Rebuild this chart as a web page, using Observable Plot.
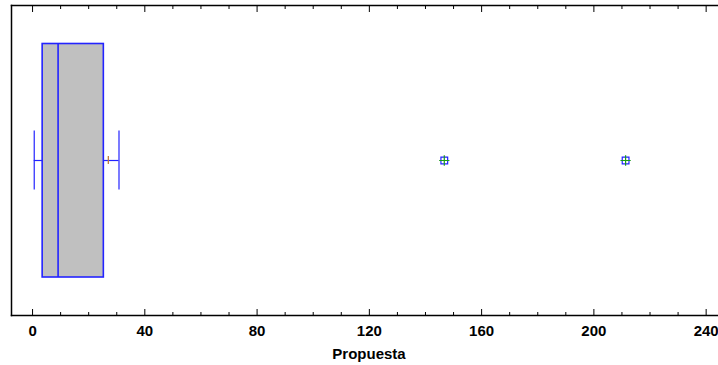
<!DOCTYPE html>
<html>
<head>
<meta charset="utf-8">
<script src="https://cdn.jsdelivr.net/npm/d3@7"></script>
<script src="https://cdn.jsdelivr.net/npm/@observablehq/plot@0.6"></script>
<style>
  html, body { margin: 0; padding: 0; background: #fff; }
</style>
</head>
<body>
<div id="chart"></div>
<script>
const category = ["Propuesta"];
const boxValues = [3.6, 9.1, 25.4];        // Q1, median, Q3
const whiskerValues = [0.6, 30.8];         // lower, upper whisker ends
const meanValues = [27.0];
const outlierValues = [146.7, 211.3];
const majorTicks = [0, 40, 80, 120, 160, 200, 240];
const minorTicks = [10, 20, 30, 50, 60, 70, 90, 100, 110, 130, 140, 150, 170, 180, 190, 210, 220, 230];
const axisTitle = "Propuesta";

const cat = () => category[0];
const blue = "#2323ff";

const chart = Plot.plot({
  width: 718,
  height: 365,
  marginLeft: 11,
  marginRight: 0,
  marginTop: 5,
  marginBottom: 50,
  x: {domain: [-7.5, 244.4], axis: null},
  y: {domain: category, axis: null, padding: 0},
  style: {fontFamily: "'Liberation Sans', Arial, sans-serif", background: "#fff", color: "#000"},
  marks: [
    // whiskers
    Plot.ruleY([{a: whiskerValues[0], b: boxValues[0]}, {a: boxValues[2], b: whiskerValues[1]}],
      {x1: "a", x2: "b", y: cat, stroke: blue, strokeWidth: 1.2}),
    Plot.tickX(whiskerValues, {x: d => d, y: cat, insetTop: 125.6, insetBottom: 125.6, stroke: blue, strokeWidth: 1.2}),
    // box
    Plot.barX([boxValues], {x1: d => d[0], x2: d => d[2], y: cat, insetTop: 38.5, insetBottom: 38,
      fill: "#c0c0c0", stroke: blue, strokeWidth: 1.6}),
    Plot.tickX([boxValues[1]], {x: d => d, y: cat, insetTop: 38.5, insetBottom: 38, stroke: blue, strokeWidth: 1.6}),
    // mean
    Plot.tickX(meanValues, {x: d => d, y: cat, insetTop: 151, insetBottom: 151, stroke: "#c07a3a", strokeWidth: 1.3}),
    // outliers
    Plot.dot(outlierValues, {x: d => d, y: cat, symbol: "square", r: 3.8, fill: "#fff", stroke: blue, strokeWidth: 1.2}),
    Plot.dot(outlierValues, {x: d => d, y: cat, symbol: "plus", r: 3.4, stroke: "#1a9a1a", strokeWidth: 1.2}),
    // frame
    Plot.frame({anchor: "left", stroke: "#000", strokeWidth: 1.5}),
    Plot.frame({anchor: "top", stroke: "#000", strokeWidth: 1.5}),
    Plot.frame({anchor: "bottom", stroke: "#000", strokeWidth: 1.5}),
    // inward ticks
    Plot.tickX(minorTicks, {x: d => d, y: cat, insetTop: 307, stroke: "#000"}),
    Plot.tickX(majorTicks, {x: d => d, y: cat, insetTop: 304, stroke: "#000"}),
    Plot.tickX(minorTicks, {x: d => d, y: cat, insetBottom: 306, stroke: "#000"}),
    Plot.tickX(majorTicks, {x: d => d, y: cat, insetBottom: 303, stroke: "#000"}),
    // axis labels
    Plot.axisX(majorTicks, {anchor: "bottom", tickSize: 0, tickPadding: 10, fontSize: 15, fontWeight: "bold", fill: "#000", label: null}),
    Plot.text([axisTitle], {text: d => d, frameAnchor: "bottom", dx: 4, dy: 43, lineAnchor: "bottom",
      fontSize: 15, fontWeight: "bold", fill: "#000"})
  ]
});

document.getElementById("chart").appendChild(chart);
</script>
</body>
</html>
